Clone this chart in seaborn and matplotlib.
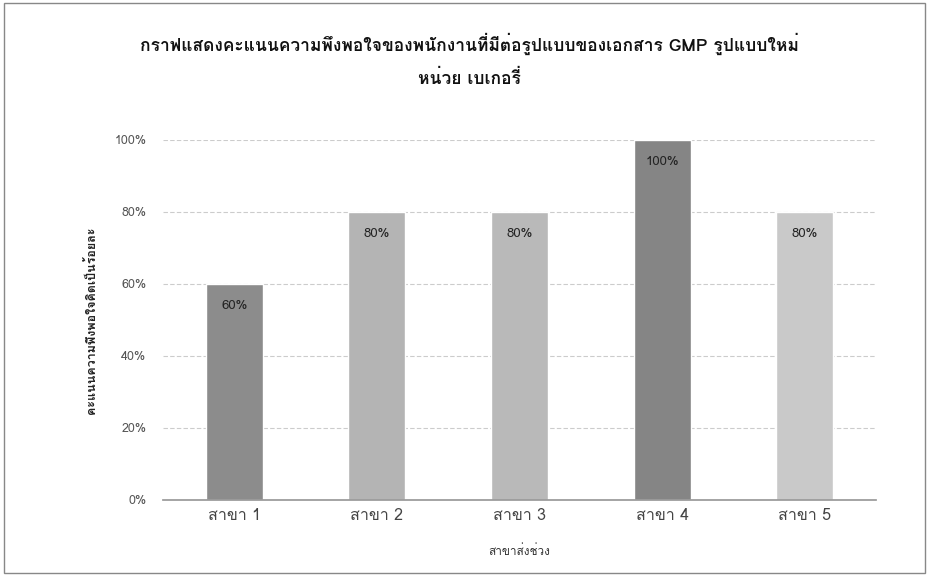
import matplotlib
matplotlib.use("Agg")
import matplotlib.pyplot as plt
from matplotlib import font_manager
import seaborn as sns
import pandas as pd

categories = ["สาขา 1", "สาขา 2", "สาขา 3", "สาขา 4", "สาขา 5"]
values = [60, 80, 80, 100, 80]
bar_colors = ["#8c8c8c", "#b4b4b4", "#b9b9b9", "#858585", "#c9c9c9"]
y_ticks = [0, 20, 40, 60, 80, 100]
title_text = "กราฟแสดงคะแนนความพึงพอใจของพนักงานที่มีต่อรูปแบบของเอกสาร GMP รูปแบบใหม่\nหน่วย เบเกอรี่"
x_label = "สาขาส่งช่วง"
y_label = "คะแนนความพึงพอใจคิดเป็นร้อยละ"

# find fonts that contain Thai glyphs
thai_fonts = []
try:
    from fontTools.ttLib import TTFont
    seen = set()
    for f in font_manager.fontManager.ttflist:
        if f.name in seen:
            continue
        try:
            tt = TTFont(f.fname, fontNumber=0, lazy=True)
            cmap = tt.getBestCmap()
            if cmap and ord("ก") in cmap:
                thai_fonts.append(f.name)
                seen.add(f.name)
        except Exception:
            pass
except Exception:
    pass

sns.set_theme(style="white")
fam = thai_fonts + ["DejaVu Sans"]
plt.rcParams["font.family"] = fam

df = pd.DataFrame({"cat": categories, "val": values})

fig = plt.figure(figsize=(9.29, 5.76), dpi=100)
ax = fig.add_axes([163 / 929, 1 - 500 / 576, (876 - 163) / 929, (500 - 140) / 576])

sns.barplot(data=df, x="cat", y="val", hue="cat", palette=bar_colors, legend=False,
            width=0.4, ax=ax, saturation=1)

ax.set_ylim(0, 100)
ax.set_xlim(-0.5, 4.5)
ax.set_yticks(y_ticks)
ax.set_yticklabels([f"{t}%" for t in y_ticks], fontsize=9, color="#555555")
ax.tick_params(axis="x", labelsize=11.5, colors="#444444", length=0, pad=6)
ax.tick_params(axis="y", length=0, pad=12)
ax.yaxis.grid(True, color="#cccccc", linestyle=(0, (4, 2)), linewidth=0.8)
ax.set_axisbelow(True)
for s in ["top", "right", "left"]:
    ax.spines[s].set_visible(False)
ax.spines["bottom"].set_color("#999999")
ax.set_xlabel(x_label, fontsize=8.5, color="#333333", labelpad=14)
ax.set_ylabel(y_label, fontsize=9, color="#222222", fontweight="bold", labelpad=12)

for i, v in enumerate(values):
    ax.text(i, v - 6, f"{v}%", ha="center", va="center", fontsize=9.5, color="#222222")

fig.text(0.505, 1 - 60 / 576, title_text, ha="center", va="center", fontsize=12.5,
         fontweight="bold", color="#111111", linespacing=1.9)

fig.patches.append(plt.Rectangle((4 / 929, 3 / 576), 921 / 929, 570 / 576, transform=fig.transFigure,
                                 fill=False, edgecolor="#888888", linewidth=1))

fig.savefig("out.png", dpi=100)
